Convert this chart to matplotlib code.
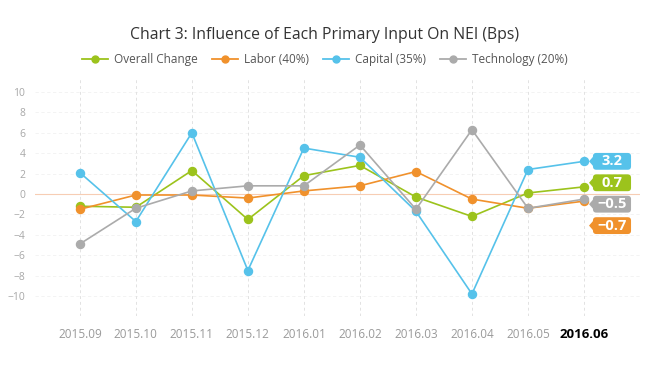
import numpy as np
import matplotlib.pyplot as plt
from matplotlib.lines import Line2D
from matplotlib.patches import FancyBboxPatch, Polygon

plt.rcParams['font.family'] = ['Open Sans', 'DejaVu Sans']

months = ["2015.09", "2015.10", "2015.11", "2015.12", "2016.01",
          "2016.02", "2016.03", "2016.04", "2016.05", "2016.06"]
overall = [-1.2, -1.3, 2.3, -2.5, 1.8, 2.8, -0.3, -2.2, 0.1, 0.7]
labor = [-1.5, -0.1, -0.1, -0.4, 0.3, 0.8, 2.2, -0.5, -1.4, -0.7]
capital = [2.1, -2.7, 6.0, -7.5, 4.5, 3.6, -1.7, -9.8, 2.4, 3.2]
technology = [-4.9, -1.4, 0.3, 0.8, 0.8, 4.8, -1.5, 6.3, -1.4, -0.5]

names = ["Overall Change", "Labor (40%)", "Capital (35%)", "Technology (20%)"]
colors = ["#9cc31c", "#f0912c", "#56c2ea", "#ababab"]
series = [overall, labor, capital, technology]

fig = plt.figure(figsize=(6.5, 3.66), dpi=100)
ax = fig.add_axes([35 / 650, 0.1355, 605 / 650, 0.655])
x = np.arange(len(months))

# grid
for yv in range(-10, 11, 2):
    if yv == 0:
        ax.axhline(0, color="#f7cdb4", lw=0.8, zorder=1)
    else:
        ax.axhline(yv, color="#f1f1f1", lw=0.6, ls=(0, (4, 3)), zorder=0)
for xi in x:
    ax.axvline(xi, color="#e2e2e2", lw=0.7, ls=(0, (3, 3)), zorder=0)

draw_order = [3, 2, 1, 0]
for i in draw_order:
    ax.plot(x, series[i], color=colors[i], lw=1.2, marker="o", ms=5.8,
            mec=colors[i], zorder=3 + i)

ax.set_xlim(-0.8, 10.0)
ax.set_ylim(-12, 11.5)
ax.set_yticks(range(-10, 11, 2))
ax.set_yticklabels([str(v).replace("-", "\u2212") for v in range(-10, 11, 2)])
ax.tick_params(axis="y", length=0, pad=7, labelsize=7.5, labelcolor="#a8a8a8")
ax.set_xticks(x)
ax.set_xticklabels(months)
ax.tick_params(axis="x", length=0, pad=8, labelsize=8.5, labelcolor="#9a9a9a")
last = ax.get_xticklabels()[-1]
last.set_color("black")
last.set_fontweight("bold")
last.set_fontsize(9.5)
for s in ax.spines.values():
    s.set_visible(False)

# end labels (tags), stacked from the top value
end_vals = [s[-1] for s in series]
order = sorted(range(4), key=lambda i: -end_vals[i])
top = end_vals[order[0]]
x_left = len(months) - 1 + 0.16
box_w, box_h = 0.68, 1.65
for k, i in enumerate(order):
    yy = top - k * 2.1
    txt = ("%.1f" % end_vals[i]).replace("-", "\u2212")
    ax.add_patch(FancyBboxPatch((x_left, yy - box_h / 2), box_w, box_h,
                                boxstyle="round,pad=0,rounding_size=0.06",
                                mutation_aspect=5.5, fc=colors[i], ec="none",
                                clip_on=False, zorder=9))
    ax.add_patch(Polygon([[x_left - 0.07, yy], [x_left + 0.01, yy + 0.5],
                          [x_left + 0.01, yy - 0.5]], closed=True,
                         fc=colors[i], ec="none", clip_on=False, zorder=9))
    ax.text(x_left + box_w / 2, yy, txt, ha="center", va="center",
            fontsize=10.5, fontweight="bold", color="white", zorder=10,
            clip_on=False)

fig.text(0.5, 0.905, "Chart 3: Influence of Each Primary Input On NEI (Bps)",
         ha="center", va="center", fontsize=11.3, color="#333333")

handles = [Line2D([0], [0], color=c, lw=1.3, marker="o", ms=5) for c in colors]
fig.legend(handles, names, loc="center", bbox_to_anchor=(0.5, 0.838), ncol=4,
           frameon=False, fontsize=8.5, handlelength=2.2, handletextpad=0.5,
           columnspacing=1.2, labelcolor="#555555")

fig.savefig("out.png", dpi=100, facecolor="white")
